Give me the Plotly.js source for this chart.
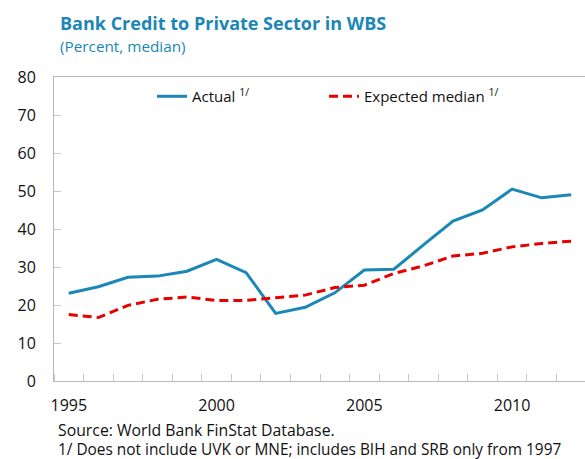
<!DOCTYPE html>
<html>
<head>
<meta charset="utf-8">
<script src="https://cdn.plot.ly/plotly-3.0.1.min.js"></script>
<style>
html,body{margin:0;padding:0;overflow:hidden;background:#fff;}
#chart{width:586px;height:459px;}
</style>
</head>
<body>
<div id="chart"></div>
<script>
const years = [1995,1996,1997,1998,1999,2000,2001,2002,2003,2004,2005,2006,2007,2008,2009,2010,2011,2012];
const actual = [23.1,24.8,27.3,27.6,28.9,32.0,28.5,17.8,19.4,23.2,29.2,29.4,35.8,42.1,45.0,50.5,48.2,49.0];
const expected = [17.5,16.7,19.9,21.5,22.1,21.2,21.2,21.9,22.6,24.6,25.2,28.3,30.3,32.9,33.6,35.3,36.2,36.8];
const xTickLabels = [1995,2000,2005,2010];

const FONT = '"Open Sans", "Noto Sans", sans-serif';
const BLUE = '#1a87b6';
const RED = '#e60000';

const traces = [
  {x: years, y: actual, type: 'scatter', mode: 'lines', name: 'Actual <sup>1/</sup>',
   line: {color: BLUE, width: 3}, legend: 'legend'},
  {x: years, y: expected, type: 'scatter', mode: 'lines', name: 'Expected median <sup>1/</sup>',
   line: {color: RED, width: 3, dash: '9px,5px'}, legend: 'legend2'}
];

const legendBase = {orientation: 'h', yanchor: 'top', xanchor: 'left', y: 0.99,
  font: {family: FONT, size: 15, color: '#111'}, bgcolor: 'rgba(0,0,0,0)', borderwidth: 0};

const layout = {
  width: 586, height: 459,
  margin: {l: 54, r: 0, t: 77, b: 78},
  paper_bgcolor: '#fff', plot_bgcolor: '#fff',
  font: {family: FONT, size: 15, color: '#111'},
  showlegend: true,
  legend: Object.assign({}, legendBase, {x: (152 - 54) / 532}),
  legend2: Object.assign({}, legendBase, {x: (324 - 54) / 532}),
  xaxis: {
    range: [1994.5, 2012.5], tickmode: 'array', tickvals: xTickLabels, ticktext: xTickLabels.map(String),
    ticks: '', showgrid: false, zeroline: false, showline: true, linecolor: '#b8b8b8', linewidth: 1,
    mirror: true, ticklabelstandoff: 10,
    tickfont: {family: FONT, size: 16, color: '#111'},
    minor: {ticks: 'inside', tick0: 1994.5, dtick: 1, ticklen: 7, tickcolor: '#c8c8c8', tickwidth: 1, showgrid: false}
  },
  yaxis: {
    range: [0, 80], dtick: 10, tick0: 0, ticks: 'inside', ticklen: 7, tickcolor: '#c8c8c8',
    showgrid: false, zeroline: false, showline: true, linecolor: '#b8b8b8', linewidth: 1, mirror: true,
    ticklabelstandoff: 14, tickfont: {family: FONT, size: 16, color: '#111'}
  },
  annotations: [
    {text: '<b>Bank Credit to Private Sector in WBS</b>', xref: 'paper', yref: 'paper',
     x: (58 - 54) / 532, y: (381 - 23) / 304, xanchor: 'left', yanchor: 'middle', showarrow: false,
     font: {family: FONT, size: 18, color: BLUE}},
    {text: '(Percent, median)', xref: 'paper', yref: 'paper',
     x: (58 - 54) / 532, y: (381 - 46) / 304, xanchor: 'left', yanchor: 'middle', showarrow: false,
     font: {family: FONT, size: 15.3, color: BLUE}},
    {text: 'Source: World Bank FinStat Database.', xref: 'paper', yref: 'paper',
     x: (57 - 54) / 532, y: (381 - 430) / 304, xanchor: 'left', yanchor: 'middle', showarrow: false,
     borderpad: 0, font: {family: FONT, size: 15.8, color: '#111'}},
    {text: '1/ Does not include UVK or MNE; includes BIH and SRB only from 1997', xref: 'paper', yref: 'paper',
     x: (57 - 54) / 532, y: (381 - 449) / 304, xanchor: 'left', yanchor: 'middle', showarrow: false,
     borderpad: 0, font: {family: FONT, size: 15.4, color: '#111'}}
  ]
};

Plotly.newPlot('chart', traces, layout, {displayModeBar: false, staticPlot: true});
</script>
</body>
</html>
